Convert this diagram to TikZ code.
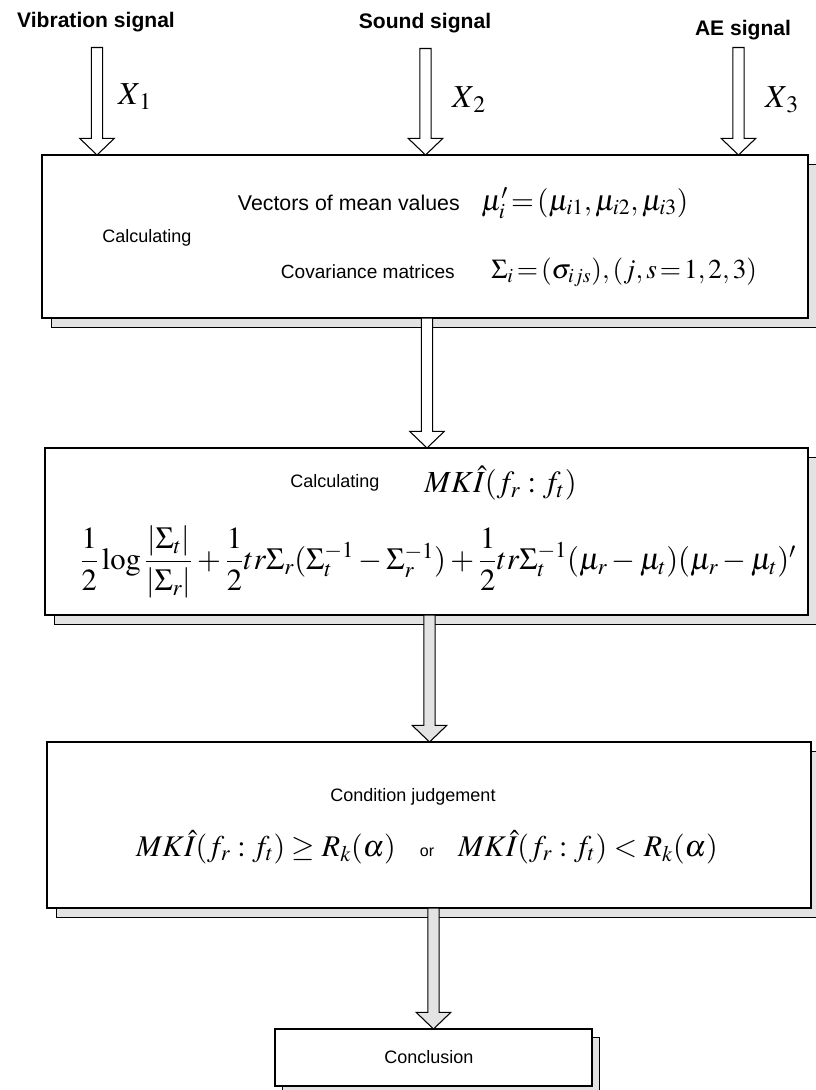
\documentclass[tikz,border=0pt]{standalone}
\usepackage[no-math]{fontspec}
\usepackage{amsmath}
\usepackage{mathptmx}
\usepackage{graphicx}
\newfontfamily\labfont{Liberation Sans}
\usetikzlibrary{calc,backgrounds}
\tikzset{
  boxst/.style={draw=black, line width=1pt, fill=white, inner sep=0pt, outer sep=0pt},
  shadowst/.style={draw=black, line width=0.6pt, fill=gray!22},
  barrowst/.style={draw=black, line width=0.8pt, fill=white, line join=miter},
  graybarrow/.style={fill=gray!22},
  txt/.style={inner sep=0pt, font=\labfont\fontsize{13.5}{16}\selectfont},
  toplab/.style={inner sep=0pt, font=\labfont\bfseries\fontsize{15.8}{18}\selectfont},
  midlab/.style={inner sep=0pt, font=\labfont\fontsize{16}{18}\selectfont},
  mathlab/.style={inner sep=0pt, font=\fontsize{23}{27}\selectfont},
  xlab/.style={inner sep=0pt, font=\fontsize{24}{28}\selectfont}
}
\newcommand\barrow[3][]{%
  \draw[barrowst,#1] let \p1=(#2), \p2=(#3) in
    (\x1-4.2pt,\y1) -- (\x1-4.2pt,\y2+12.5pt) -- (\x1-13pt,\y2+12.5pt) -- (\x1,\y2)
    -- (\x1+13pt,\y2+12.5pt) -- (\x1+4.2pt,\y2+12.5pt) -- (\x1+4.2pt,\y1) -- cycle;}
\begin{document}
\begin{tikzpicture}[x=0.75pt,y=-0.75pt]
\useasboundingbox (0,0) rectangle (815,1090);

% top labels
\node[toplab] (sig1) at (96,22) {Vibration signal};
\node[toplab] (sig2) at (425,23) {Sound signal};
\node[toplab] (sig3) at (743,30) {AE signal};

% boxes
\node[boxst, minimum width={766*0.75pt}, minimum height={163*0.75pt}] (box1) at (425,236.5) {};
\node[boxst, minimum width={763*0.75pt}, minimum height={167*0.75pt}] (box2) at (426.5,531.5) {};
\node[boxst, minimum width={764*0.75pt}, minimum height={166*0.75pt}] (box3) at (429,825) {};
\node[boxst, minimum width={317*0.75pt}, minimum height={57*0.75pt}, font=\labfont\fontsize{13.5}{16}\selectfont] (concl) at (433.5,1057.5) {\hspace*{-7pt}Conclusion};

\begin{scope}[on background layer]
  \draw[shadowst] ([shift={(6.75pt,-6.75pt)}]box1.south west) rectangle ([shift={(6.75pt,-6.75pt)}]box1.north east);
  \draw[shadowst] ([shift={(6.75pt,-6.75pt)}]box2.south west) rectangle ([shift={(6.75pt,-6.75pt)}]box2.north east);
  \draw[shadowst] ([shift={(6.75pt,-6.75pt)}]box3.south west) rectangle ([shift={(6.75pt,-6.75pt)}]box3.north east);
  \draw[shadowst] ([shift={(5.25pt,-6pt)}]concl.south west) rectangle ([shift={(5.25pt,-6pt)}]concl.north east);
\end{scope}

% input arrows
\barrow{[shift={(0.75pt,-11.5pt)}]sig1.south}{box1.north}
\barrow{[shift={(0.4pt,-11.5pt)}]sig2.south}{box1.north}
\barrow{[shift={(-3.4pt,-5.5pt)}]sig3.south}{box1.north}
\node[xlab] (x1) at (135,97) {$X_{\,1}$};
\node[xlab] (x2) at (469,100) {$X_{\,2}$};
\node[xlab] (x3) at (782,100) {$X_{\,3}$};

% box 1 content
\node[midlab, anchor=east] (vec) at (460,203) {Vectors of mean values};
\node[mathlab, anchor=west, font=\fontsize{22}{26}\selectfont] (mu) at (481,203) {$\thickmuskip=2mu \mu_i' = (\mu_{i1}, \mu_{i2}, \mu_{i3})$};
\node[txt] (cal1) at (147,238) {Calculating};
\node[midlab, anchor=east, font=\labfont\fontsize{14.3}{17}\selectfont] (cov) at (455,272) {Covariance matrices};
\node[mathlab, anchor=west, font=\fontsize{20.5}{24}\selectfont] (sg) at (491,272) {$\thickmuskip=2mu \Sigma_i = (\sigma_{ijs}), (j, s = 1, 2, 3)$};

% arrows between boxes
\barrow{[xshift=1.5pt]box1.south}{box2.north}
\barrow[graybarrow]{[xshift=2.25pt]box2.south}{box3.north}
\barrow[graybarrow]{concl.north |- box3.south}{concl.north}

% box 2 content
\node[txt] (cal2) at (335,483) {Calculating};
\node[mathlab, anchor=west] (mki) at (424,483) {$MK\hat{I}(f_r : f_t)$};
\node[mathlab] (form2) at (438,562) {$\dfrac{1}{2}\log\dfrac{\left|\Sigma_t\right|}{\left|\Sigma_r\right|} + \dfrac{1}{2}tr\Sigma_r(\Sigma_t^{-1} - \Sigma_r^{-1}) + \dfrac{1}{2}tr\Sigma_t^{-1}(\mu_r - \mu_t)(\mu_r - \mu_t)'$};

% box 3 content
\node[txt] (cond) at (413,797) {Condition judgement};
\node[mathlab, font=\fontsize{22.5}{27}\selectfont] (form3) at (427,847) {$MK\hat{I}(f_r : f_t) \geq R_k(\alpha)$\hspace{0.8em}{\labfont\fontsize{12}{14}\selectfont or}\hspace{0.8em}$MK\hat{I}(f_r : f_t) < R_k(\alpha)$};
\end{tikzpicture}
\end{document}
